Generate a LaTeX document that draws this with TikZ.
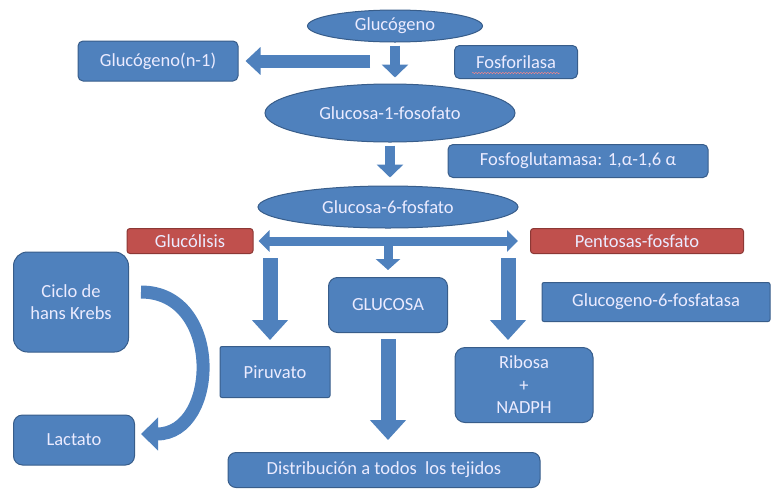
\documentclass[tikz,border=0pt]{standalone}
\usepackage{fontspec}
\setmainfont{Carlito}
\usetikzlibrary{shapes.geometric,arrows.meta,decorations.pathmorphing,calc}

\definecolor{boxblue}{RGB}{79,129,189}
\definecolor{edgeblue}{RGB}{56,93,138}
\definecolor{boxred}{RGB}{192,80,77}
\definecolor{edgered}{RGB}{140,56,53}

\begin{document}
\begin{tikzpicture}[x=1pt,y=-1pt]

\tikzset{box/.style={draw=edgeblue,line width=1pt,fill=boxblue,text=white!92!blue,rounded corners=5pt,inner sep=2pt,align=center,font=\fontsize{18.5}{22.5}\selectfont},
oval/.style={draw=edgeblue,line width=1pt,fill=boxblue,text=white!92!blue,ellipse,inner sep=0pt,font=\fontsize{18.5}{22.5}\selectfont},
redbox/.style={box,draw=edgered,fill=boxred,rounded corners=3pt},
thinarrow/.style={draw=boxblue,line width=10pt,-{Triangle[length=13pt,width=26pt]}},
fatarrow/.style={draw=boxblue,line width=15pt,-{Triangle[length=20pt,width=35pt]}},
twoarrow/.style={draw=boxblue,line width=9pt,{Triangle[length=11pt,width=21pt]}-{Triangle[length=11pt,width=21pt]}}}

\useasboundingbox (0,0) rectangle (771,488);

% top part
\node (gluc) [oval,minimum width=175pt,minimum height=32pt] at (395,26) {Glucógeno};
\node (glucn1) [box,minimum width=160pt,minimum height=40pt] at (158,61) {Glucógeno(n-1)};
\node (fosfo) [box,minimum width=123pt,minimum height=33pt] at (516,62) {Fosforilasa};
\draw [pink!70!red,decorate,decoration={snake,amplitude=0.7pt,segment length=3pt}] ($(fosfo.center)+(-44,11)$) -- ($(fosfo.center)+(44,11)$);
\node (g1p) [oval,minimum width=250pt,minimum height=58pt] at (390,113) {Glucosa-1-fosofato};
\node (fglut) [box,minimum width=260pt,minimum height=33pt] at (578,161) {Fosfoglutamasa: 1,α-1,6 α};
\node (g6p) [oval,minimum width=260pt,minimum height=42pt] at (388,207) {Glucosa-6-fosfato};

\coordinate (split) at (370,61);
\draw [thinarrow,shorten <=3pt,shorten >=6pt] (gluc.south) -- (gluc.south |- g1p.north);
\draw [thinarrow,line width=13pt,-{Triangle[length=15pt,width=27pt]},shorten >=7pt] (split) -- (glucn1.east);
\draw [thinarrow,shorten <=3pt,shorten >=8pt] (g1p.south) -- (g1p.south |- g6p.north);

% the three ways
\node (glucolisis) [redbox,minimum width=126pt,minimum height=25pt] at (190,241) {Glucólisis};
\node (pentosas) [redbox,minimum width=213pt,minimum height=25pt] at (637,241) {Pentosas-fosfato};
\draw [twoarrow,shorten <=5pt,shorten >=12pt] (glucolisis.east) -- (pentosas.west);

\node (krebs) [box,rounded corners=14pt,minimum width=115pt,minimum height=100pt] at (71,302) {Ciclo de\\hans Krebs};
\node (piruvato) [box,rounded corners=2pt,minimum width=110pt,minimum height=51pt] at (275,372) {Piruvato};
\node (glucosa) [box,rounded corners=9pt,minimum width=119pt,minimum height=55pt] at (388,305) {GLUCOSA};
\node (g6fasa) [box,rounded corners=2pt,minimum width=228pt,minimum height=39pt] at (656,302) {Glucogeno-6-fosfatasa};
\node (ribosa) [box,rounded corners=10pt,minimum width=138pt,minimum height=75pt] at (524,385) {Ribosa\\+\\NADPH};
\node (lactato) [box,rounded corners=9pt,minimum width=121pt,minimum height=50pt] at (74,440) {Lactato};
\node (distrib) [box,rounded corners=8pt,minimum width=312pt,minimum height=35pt] at (384,470) {Distribución a todos \ los tejidos};

\coordinate (fork) at (388,246);
\coordinate (pleft) at (270,258);
\coordinate (pright) at (508,258);

\draw [thinarrow,line width=9pt,-{Triangle[length=11pt,width=24pt]},shorten >=7pt] (fork) -- (fork |- glucosa.north);
\draw [fatarrow,shorten >=6pt] (pleft) -- (pleft |- piruvato.north);
\draw [fatarrow,shorten >=7pt] (pright) -- (pright |- ribosa.north);
\draw [fatarrow,shorten <=6pt,shorten >=12pt] (glucosa.south) -- (glucosa.south |- distrib.north);

\draw [fatarrow,line width=13pt,-{Triangle[length=17pt,width=32pt]}] ($(krebs.east)+(12,-10)$) .. controls +(82,0) and +(78,0) .. ($(lactato.east)+(6,-6)$);

\end{tikzpicture}
\end{document}
